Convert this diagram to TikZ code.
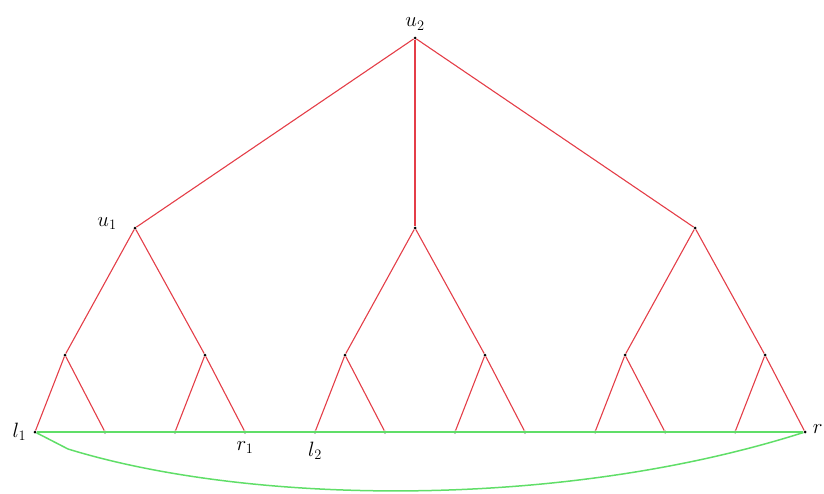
\documentclass[tikz,border=0pt]{standalone}
\usepackage{tikz}
\usetikzlibrary{positioning}
\definecolor{treered}{RGB}{228,62,72}
\definecolor{pathgreen}{RGB}{96,222,104}

\begin{document}
\begin{tikzpicture}[
    x=1pt, y=-1pt,
    dot/.style={circle, fill=black, inner sep=0pt, minimum size=3pt},
    edge/.style={treered, line width=1.1pt},
    route/.style={pathgreen, line width=1.5pt},
    lbl/.style={font=\fontsize{21}{24}\selectfont, inner sep=1pt}
]
    \useasboundingbox (0,0) rectangle (824,493);

    % Root and first level
    \node[dot] (u2) at (415,38) {};
    \node[dot] (c1) at (135,228) {};
    \node[dot] (c2) at (415,228) {};
    \node[dot] (c3) at (695,228) {};

    % Second level
    \foreach \i/\x in {1/65, 2/205, 3/345, 4/485, 5/625, 6/765} {
        \node[dot] (b\i) at (\x,355) {};
    }

    % Leaves
    \foreach \i/\x in {1/35, 2/105, 3/175, 4/245, 5/315, 6/385,
                       7/455, 8/525, 9/595, 10/665, 11/735, 12/805} {
        \node[dot] (a\i) at (\x,432) {};
    }

    % Tree edges
    \foreach \a/\b in {u2/c1, u2/c3,
                       c1/b1, c1/b2, c2/b3, c2/b4, c3/b5, c3/b6,
                       b1/a1, b1/a2, b2/a3, b2/a4, b3/a5, b3/a6,
                       b4/a7, b4/a8, b5/a9, b5/a10, b6/a11, b6/a12} {
        \draw[edge] (\a) -- (\b);
    }
    \draw[edge, line width=1.35pt] (u2) -- (c2);

    % Green paths
    \draw[route] (a1) -- (a12);
    \coordinate (k) at (68,449);
    \draw[route] (a1) -- (k) .. controls (250,505) and (560,510) .. (a12);

    % Labels
    \node[lbl, above=5pt of u2] {$u_2$};
    \node[lbl, above left=-4pt and 16pt of c1] {$u_1$};
    \node[lbl, left=6pt of a1] {$l_1$};
    \node[lbl, below=7pt of a4] {$r_1$};
    \node[lbl, below=7pt of a5] {$l_2$};
    \node[lbl, right=5pt of a12, yshift=3pt] {$r$};
\end{tikzpicture}
\end{document}
